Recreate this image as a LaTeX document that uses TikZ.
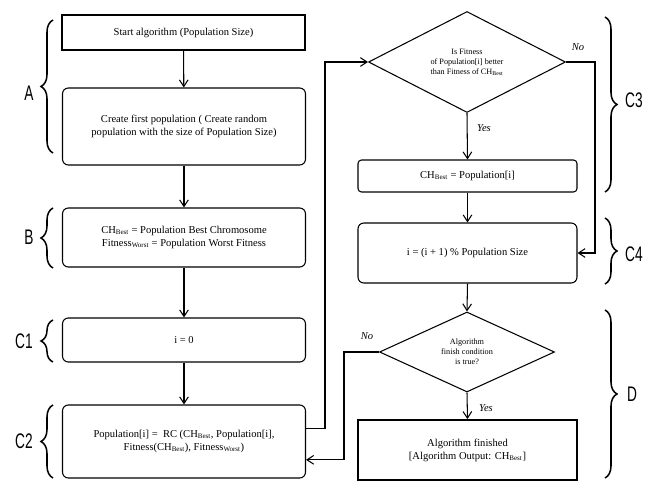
\documentclass[tikz,border=0pt]{standalone}
\usepackage{fontspec}
\setmainfont{Liberation Serif}
\newfontfamily\labfont{Liberation Sans}
\usepackage{tikz}
\usetikzlibrary{shapes.geometric,decorations.pathreplacing,arrows.meta}

\begin{document}
\begin{tikzpicture}[x=0.03cm, y=-0.03cm, >={Straight Barb[length=2mm,width=2.6mm]},
    box/.style={draw, rounded corners=5pt, line width=0.9pt, minimum width=7.29cm, font=\fontsize{9}{11}\selectfont, align=center},
    endbox/.style={draw, line width=1.5pt, font=\fontsize{9}{11}\selectfont, align=center},
    cond/.style={draw, diamond, line width=0.9pt, inner sep=0pt, font=\fontsize{7}{8.5}\selectfont, align=center},
    brc/.style={decorate, decoration={brace, amplitude=0.36cm}, line width=1.3pt},
    lab/.style={font=\labfont\fontsize{18}{18}\selectfont, xscale=0.65},
    ans/.style={font=\fontsize{9}{11}\selectfont\itshape}]
            \useasboundingbox (0,0) rectangle (659,482);
            % left column
            \node[endbox, minimum width=7.29cm, minimum height=1.05cm] (start) at (183.5,32.5) {Start algorithm (Population Size)};
            \node[box, minimum height=2.31cm] (create) at (184,126.5) {Create first population ( Create random\\population with the size of Population Size)};
            \node[box, minimum height=1.77cm] (best) at (184,237.5) {CH\textsubscript{Best} = Population Best Chromosome\\Fitness\textsubscript{Worst} = Population Worst Fitness};
            \node[box, minimum height=1.32cm] (init) at (184,340) {i = 0};
            \node[box, minimum height=2.19cm] (update) at (184,441.5) {Population[i] = \ RC (CH\textsubscript{Best}, Population[i],\\Fitness(CH\textsubscript{Best}), Fitness\textsubscript{Worst})};
            % right column
            \node[cond, minimum width=5.91cm, minimum height=3.03cm] (cmp) at (467,62) {Is Fitness\\of Population[i] better\\than Fitness of CH\textsubscript{Best}};
            \node[box, minimum width=6.57cm, minimum height=0.96cm, rounded corners=3pt] (swap) at (467.5,176) {CH\textsubscript{Best} = Population[i]};
            \node[box, minimum width=6.57cm, minimum height=1.8cm] (incr) at (467.5,253) {i = (i + 1) \% Population Size};
            \node[cond, minimum width=5.25cm, minimum height=2.4cm] (done) at (467,352) {Algorithm\\finish condition\\is true?};
            \node[endbox, minimum width=6.57cm, minimum height=1.8cm] (final) at (467.5,450) {Algorithm finished\\{[}Algorithm Output: CH\textsubscript{Best}]};
            % connectors
            \draw[->, line width=0.9pt] (start) -- (create);
            \draw[->, line width=0.9pt] (create) -- (best);
            \draw[->, line width=0.9pt] (best) -- (init);
            \draw[->, line width=0.9pt] (init) -- (update);
            \coordinate (upA) at (325,62);
            \draw[->, line width=0.9pt] ([yshift=0.4cm]update.east) -| (upA) -- (cmp.west);
            \coordinate (noA) at (595,62);
            \draw[->, line width=0.9pt] (cmp.east) -- (noA) |- (incr.east);
            \draw[->, line width=0.9pt] (cmp.south) -- (swap.north);
            \draw[->, line width=0.9pt] (swap) -- (incr);
            \draw[->, line width=0.9pt] (incr.south) -- (done.north);
            \draw[->, line width=0.9pt] (done.south) -- (final.north);
            \coordinate (noB) at (344,352);
            \draw[->, line width=0.9pt] (done.west) -- (noB) |- ([yshift=-0.55cm]update.east);
            \node[ans] (noa) at (578,47) {No};
            \node[ans] (yesa) at (484,128) {Yes};
            \node[ans] (nob) at (367,336) {No};
            \node[ans] (yesb) at (486,408) {Yes};
            % braces
            \draw[brc] (53,153) -- (53,20);
            \draw[brc] (53,268) -- (53,208);
            \draw[brc] (53,362) -- (53,320);
            \draw[brc] (53,478) -- (53,405);
            \draw[brc] (605,17) -- (605,192);
            \draw[brc] (605,218) -- (605,284);
            \draw[brc] (605,310) -- (605,478);
            \node[lab] (labA) at (29,93) {A};
            \node[lab] (labB) at (29,237) {B};
            \node[lab] (labC1) at (24,341) {C1};
            \node[lab] (labC2) at (24,441) {C2};
            \node[lab] (labC3) at (634,100) {C3};
            \node[lab] (labC4) at (634,254) {C4};
            \node[lab] (labD) at (632,394) {D};
        \end{tikzpicture}
\end{document}
